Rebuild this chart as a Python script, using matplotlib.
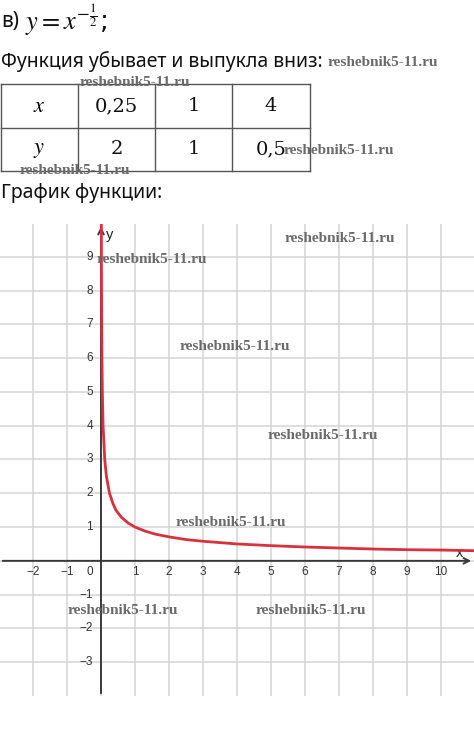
import matplotlib
matplotlib.use("Agg")
import matplotlib.pyplot as plt
from matplotlib.lines import Line2D

W, H = 474, 730

# table from the worksheet
TABLE_X = ["0,25", "1", "4"]
TABLE_Y = ["2", "1", "0,5"]

CURVE_X = [0.010, 0.012, 0.016, 0.020, 0.028, 0.040, 0.062, 0.11, 0.16, 0.25,
           0.35, 0.44, 0.6, 0.8, 1.0, 1.3, 1.6, 2.0, 2.5, 3.0, 4.0, 5.0, 6.0,
           7.0, 8.0, 9.0, 10.0, 11.0]
CURVE_Y = [10.0, 9.1, 7.9, 7.1, 6.0, 5.0, 4.0, 3.0, 2.5, 2.0,
           1.7, 1.5, 1.29, 1.12, 1.0, 0.88, 0.79, 0.71, 0.63, 0.58, 0.5, 0.45, 0.41,
           0.38, 0.35, 0.33, 0.32, 0.30]

XTICKS = [-2, -1, 1, 2, 3, 4, 5, 6, 7, 8, 9, 10]
YTICKS = [-3, -2, -1, 1, 2, 3, 4, 5, 6, 7, 8, 9]

WATERMARKS = [(383, 63), (135, 83), (339, 151), (75, 170), (340, 238),
              (152, 259), (235, 347), (323, 435), (231, 523), (123, 611),
              (311, 611)]


def fx(px):
    return px / W


def fy(py):
    return 1 - py / H


fig = plt.figure(figsize=(W / 100, H / 100), dpi=100)

text_font = ["Noto Sans", "DejaVu Sans"]
plt.rcParams["mathtext.fontset"] = "stix"

fig.text(fx(1), fy(22), "в)", fontsize=15, family=text_font,
         va="center", ha="left", color="#111")
fig.text(fx(25), fy(20), r"$y = x^{-\frac{1}{2}}$;", fontsize=19,
         va="center", ha="left", color="#111")
fig.text(fx(1), fy(62), "Функция убывает и выпукла вниз:", fontsize=14,
         family=text_font, va="center", ha="left", color="#111")
fig.text(fx(1), fy(193), "График функции:", fontsize=14,
         family=text_font, va="center", ha="left", color="#111")

# ---- table ----
cols = [1, 78, 155, 232, 310]
rows = [84, 128, 171]
for c in cols:
    fig.add_artist(Line2D([fx(c), fx(c)], [fy(rows[0]), fy(rows[-1])],
                          color="#555", lw=1))
for r in rows:
    fig.add_artist(Line2D([fx(cols[0]), fx(cols[-1])], [fy(r), fy(r)],
                          color="#555", lw=1))
row_c = [(rows[0] + rows[1]) / 2, (rows[1] + rows[2]) / 2]
col_c = [(cols[i] + cols[i + 1]) / 2 for i in range(4)]
fig.text(fx(col_c[0]), fy(row_c[0]), r"$x$", fontsize=16, ha="center", va="center")
fig.text(fx(col_c[0]), fy(row_c[1]), r"$y$", fontsize=16, ha="center", va="center")
for i, (a, b) in enumerate(zip(TABLE_X, TABLE_Y)):
    fig.text(fx(col_c[i + 1]), fy(row_c[0]), a, fontsize=14, family="DejaVu Serif",
             ha="center", va="center", color="#111")
    fig.text(fx(col_c[i + 1]), fy(row_c[1]), b, fontsize=14, family="DejaVu Serif",
             ha="center", va="center", color="#111")

# ---- graph ----
ax = fig.add_axes([0, fy(696), 1, 472 / H])
ax.set_xlim(-2.97, 10.97)
ax.set_ylim(-4.0, 9.97)
for s in ax.spines.values():
    s.set_visible(False)
ax.set_xticks(range(-2, 11))
ax.set_yticks(range(-3, 10))
ax.tick_params(length=0, labelbottom=False, labelleft=False)
ax.grid(True, color="#d4d4d4", lw=1.1)
ax.set_axisbelow(True)

ax.annotate("", xy=(10.97, 0), xytext=(-2.97, 0), annotation_clip=False,
            arrowprops=dict(arrowstyle="->", color="#3a3a3a", lw=1.4))
ax.annotate("", xy=(0, 9.97), xytext=(0, -4.0), annotation_clip=False,
            arrowprops=dict(arrowstyle="->", color="#3a3a3a", lw=1.4))

ax.plot(CURVE_X, CURVE_Y, color="#d9303e", lw=2.0, zorder=5,
        solid_capstyle="butt", clip_on=True)

tick_font = dict(fontsize=8.5, family="Liberation Sans", color="#333")
for v in XTICKS:
    ax.annotate(f"{v}".replace("-", "\u2212"), (v, 0), xytext=(0, -11),
                textcoords="offset pixels", ha="center", va="center", **tick_font)
ax.annotate("0", (0, 0), xytext=(-11, -11), textcoords="offset pixels",
            ha="center", va="center", **tick_font)
for v in YTICKS:
    ax.annotate(f"{v}".replace("-", "\u2212"), (0, v), xytext=(-8, 0),
                textcoords="offset pixels", ha="right", va="center", **tick_font)

ax.text(0.15, 9.65, "y", fontsize=10.5, family="Liberation Sans", color="#222",
        ha="left", va="center")
ax.text(10.55, 0.22, "x", fontsize=10.5, family="Liberation Sans", color="#222",
        ha="center", va="center")

for px, py in WATERMARKS:
    fig.text(fx(px), fy(py), "reshebnik5-11.ru", fontsize=11,
             family="Liberation Serif", weight="bold", color="#6a6a6a",
             ha="center", va="center", zorder=10)

fig.savefig("out.png", dpi=100)
